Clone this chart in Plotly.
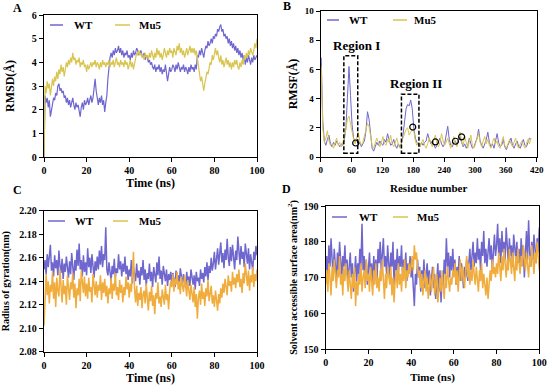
import plotly.graph_objects as go

# ---------------- data ----------------
time_ns = [i * 0.5 for i in range(201)]

rmsd_wt = [
    0.0, 2.6, 2.3, 2.5, 2.1, 2.4, 1.7, 2.0, 2.2, 2.5, 2.4, 2.7, 2.6, 3.0, 3.1, 2.8, 2.9, 2.7, 2.8, 2.5,
    2.6, 2.3, 2.5, 2.2, 2.4, 2.1, 2.3, 2.5, 2.2, 2.0, 2.3, 2.1, 2.2, 1.9, 1.7, 2.1, 2.3, 2.0, 2.4, 2.2,
    2.3, 2.5, 2.2, 2.4, 2.6, 2.3, 2.5, 2.9, 3.3, 2.8, 2.4, 2.2, 2.5, 2.3, 2.6, 2.2, 2.4, 1.9, 2.3, 2.6,
    3.3, 3.9, 4.2, 4.4, 4.2, 4.5, 4.3, 4.6, 4.4, 4.5, 4.7, 4.4, 4.6, 4.3, 4.5, 4.2, 4.4, 4.3, 4.5, 4.2,
    4.3, 4.1, 4.4, 4.2, 4.5, 4.3, 4.4, 4.6, 4.5, 4.3, 4.4, 4.5, 4.3, 4.2, 4.4, 4.1, 4.3, 4.2, 4.0, 4.1,
    3.9, 4.0, 3.8, 3.7, 3.9, 3.6, 3.8, 3.7, 3.9, 3.6, 3.8, 3.5, 3.7, 3.6, 3.9, 3.4, 3.2, 3.5, 3.8, 3.6,
    3.7, 3.9, 3.8, 3.6, 3.9, 3.7, 4.0, 3.8, 3.6, 3.8, 3.7, 3.9, 3.6, 3.8, 3.7, 3.5, 3.8, 3.6, 3.9, 3.7,
    3.8, 3.6, 3.9, 3.7, 4.3, 4.2, 4.5, 4.3, 4.6, 4.4, 4.2, 4.5, 4.7, 4.6, 4.9, 4.7, 4.8, 5.0, 4.8, 5.1,
    5.0, 5.2, 5.1, 5.4, 5.3, 5.5, 5.6, 5.3, 5.4, 5.1, 5.2, 5.0, 5.1, 4.8, 5.0, 4.7, 4.9, 4.6, 4.8, 4.5,
    4.7, 4.4, 4.6, 4.3, 4.5, 4.2, 4.4, 4.1, 4.3, 3.9, 4.2, 4.0, 4.3, 4.1, 3.9, 4.2, 4.0, 4.3, 4.1, 4.2, 4.3,
]
rmsd_mu5 = [
    0.0, 3.0, 2.7, 3.2, 2.9, 3.1, 2.6, 2.9, 3.3, 3.0, 3.4, 3.2, 3.6, 3.3, 3.7, 3.5, 3.9, 3.6, 3.8, 3.4,
    3.7, 4.0, 3.8, 4.1, 3.9, 4.2, 4.0, 4.4, 4.1, 4.2, 3.9, 4.1, 4.0, 4.2, 3.8, 4.0, 3.9, 4.1, 3.8, 3.9,
    3.6, 3.9, 3.7, 3.9, 4.0, 3.8, 4.0, 3.9, 4.1, 3.8, 4.0, 3.9, 3.7, 4.0, 3.8, 4.1, 3.9, 4.0, 3.8, 4.0,
    3.9, 4.1, 3.8, 4.0, 3.9, 4.1, 3.8, 4.0, 4.2, 3.9, 4.0, 3.8, 4.1, 3.9, 4.0, 3.8, 4.1, 3.9, 4.0, 3.7,
    3.9, 4.1, 3.8, 4.0, 3.7, 3.9, 4.2, 4.4, 4.3, 4.5, 4.3, 4.4, 4.2, 4.3, 4.1, 4.4, 4.2, 4.3, 4.1, 4.4,
    4.2, 4.5, 4.3, 4.1, 4.4, 4.2, 4.6, 4.3, 4.5, 4.2, 4.4, 4.1, 4.3, 4.6, 4.4, 4.2, 4.5, 4.3, 4.6, 4.4,
    4.5, 4.2, 4.6, 4.4, 4.3, 4.7, 4.5, 4.8, 4.4, 4.6, 4.3, 4.5, 4.2, 4.4, 4.6, 4.3, 4.5, 4.7, 4.4, 4.6,
    4.4, 4.6, 4.3, 4.5, 4.2, 3.9, 3.5, 3.2, 3.4, 3.0, 2.8, 3.1, 3.3, 3.6, 3.5, 3.8, 4.0, 3.9, 4.3, 4.1,
    4.4, 4.6, 4.3, 4.5, 4.2, 4.0, 4.3, 3.9, 4.1, 3.8, 4.0, 4.2, 3.9, 4.1, 3.8, 4.0, 3.7, 4.0, 3.8, 4.1,
    3.9, 4.1, 3.8, 3.7, 4.0, 3.8, 4.1, 3.9, 4.3, 4.1, 4.4, 4.2, 4.5, 4.3, 4.6, 4.4, 4.3, 4.5, 4.8, 4.6, 5.0,
]

residue = list(range(1, 410, 3))
rmsf_wt = [
    6.8, 2.5, 1.1, 0.8, 1.2, 1.5, 0.9, 0.7, 1.0, 0.8, 1.1, 0.9, 0.7, 0.9, 0.8, 1.2, 2.0, 4.1, 6.2, 4.2,
    2.2, 1.3, 1.0, 1.2, 0.8, 1.0, 0.7, 0.9, 1.1, 1.8, 3.1, 2.6, 1.6, 0.6, 0.4, 0.7, 1.0, 0.8, 1.1, 0.9,
    0.8, 1.2, 1.0, 1.6, 1.1, 0.8, 0.9, 1.2, 0.8, 0.6, 0.9, 0.7, 0.9, 1.5, 2.4, 3.3, 3.6, 3.5, 3.9, 3.3,
    2.0, 1.3, 1.0, 0.8, 0.7, 1.0, 0.8, 1.0, 1.1, 1.6, 1.2, 0.9, 1.1, 0.8, 0.6, 0.8, 1.0, 1.3, 0.9, 0.7,
    0.9, 1.4, 2.1, 1.2, 0.8, 0.7, 1.0, 1.1, 0.8, 1.2, 1.4, 1.0, 0.7, 0.9, 0.6, 0.8, 1.3, 0.9, 0.6, 0.7,
    1.0, 1.3, 1.9, 1.1, 0.8, 0.6, 0.9, 1.2, 1.7, 1.0, 0.7, 0.9, 0.6, 1.1, 1.6, 1.0, 0.7, 0.8, 1.2, 0.7,
    0.5, 0.8, 1.0, 1.3, 0.8, 0.6, 0.9, 1.1, 0.7, 0.6, 0.9, 1.2, 0.8, 0.7, 1.0, 1.3, 1.2,
]
rmsf_mu5 = [
    6.2, 2.0, 1.0, 1.3, 1.8, 1.1, 0.8, 0.9, 0.6, 1.0, 1.3, 0.8, 1.0, 0.7, 1.0, 1.3, 1.9, 2.6, 2.8, 2.2,
    1.6, 1.2, 0.9, 1.4, 1.7, 1.1, 0.8, 1.0, 1.4, 2.0, 2.3, 2.1, 1.5, 0.8, 0.6, 0.9, 1.3, 1.0, 0.7, 1.0,
    1.4, 0.9, 0.8, 1.2, 1.0, 1.5, 0.9, 0.7, 1.0, 1.3, 0.8, 0.6, 1.0, 1.3, 1.6, 1.9, 2.0, 1.5, 1.7, 1.9,
    1.8, 1.1, 0.8, 1.0, 0.7, 0.9, 1.2, 0.8, 0.6, 0.9, 1.3, 1.0, 0.7, 1.2, 1.5, 0.9, 0.7, 1.0, 1.6, 1.1,
    0.8, 1.0, 1.3, 0.9, 0.6, 1.0, 1.4, 0.9, 0.7, 1.3, 1.7, 1.1, 0.8, 1.4, 0.9, 0.6, 1.1, 1.5, 0.8, 0.6,
    0.9, 1.2, 1.6, 1.0, 0.7, 1.1, 1.4, 0.9, 1.2, 0.8, 0.6, 1.0, 1.3, 0.9, 1.1, 0.7, 0.6, 1.0, 1.4, 0.8,
    0.6, 0.9, 1.2, 0.9, 0.7, 1.0, 1.3, 0.8, 0.6, 0.9, 1.1, 0.8, 0.6, 0.9, 1.2, 0.9, 1.3,
]
circle_res = [68, 179, 223, 262, 274]
circle_val = [0.96, 2.05, 1.03, 1.08, 1.38]
region_labels = ["Region I", "Region II"]
region_label_x = [70, 185]
region_x0 = [45, 157]
region_x1 = [72, 191]
region_y0 = [0.25, 0.25]
region_y1 = [6.94, 4.29]

rg_wt = [
    2.150, 2.158, 2.146, 2.163, 2.152, 2.160, 2.171, 2.149, 2.156, 2.144,
    2.162, 2.151, 2.158, 2.145, 2.166, 2.153, 2.147, 2.159, 2.142, 2.155,
    2.148, 2.161, 2.150, 2.143, 2.157, 2.146, 2.164, 2.152, 2.141, 2.158,
    2.149, 2.167, 2.153, 2.172, 2.150, 2.158, 2.144, 2.162, 2.148, 2.156,
    2.145, 2.168, 2.152, 2.160, 2.147, 2.163, 2.151, 2.143, 2.157, 2.149,
    2.161, 2.150, 2.166, 2.154, 2.170, 2.152, 2.163, 2.158, 2.186, 2.150,
    2.145, 2.156, 2.148, 2.140, 2.153, 2.146, 2.159, 2.143, 2.151, 2.147,
    2.163, 2.150, 2.157, 2.144, 2.155, 2.148, 2.161, 2.146, 2.153, 2.141,
    2.150, 2.144, 2.158, 2.138, 2.152, 2.146, 2.140, 2.155, 2.143, 2.149,
    2.137, 2.152, 2.145, 2.158, 2.141, 2.150, 2.136, 2.147, 2.142, 2.155,
    2.140, 2.148, 2.135, 2.152, 2.143, 2.139, 2.156, 2.145, 2.161, 2.142,
    2.149, 2.137, 2.153, 2.144, 2.140, 2.150, 2.136, 2.146, 2.141, 2.148,
    2.139, 2.147, 2.142, 2.135, 2.149, 2.140, 2.145, 2.137, 2.151, 2.143,
    2.138, 2.146, 2.141, 2.134, 2.148, 2.139, 2.144, 2.136, 2.150, 2.141,
    2.137, 2.145, 2.133, 2.148, 2.140, 2.143, 2.136, 2.150, 2.142, 2.147,
    2.139, 2.152, 2.144, 2.156, 2.141, 2.153, 2.147, 2.160, 2.149, 2.155,
    2.165, 2.150, 2.158, 2.168, 2.154, 2.162, 2.173, 2.156, 2.164, 2.151,
    2.167, 2.158, 2.176, 2.160, 2.153, 2.169, 2.157, 2.171, 2.162, 2.150,
    2.166, 2.158, 2.178, 2.161, 2.154, 2.170, 2.159, 2.165, 2.152, 2.172,
    2.160, 2.155, 2.168, 2.150, 2.163, 2.157, 2.149, 2.165, 2.158, 2.170, 2.162,
]
rg_mu5 = [
    2.102, 2.135, 2.146, 2.128, 2.140, 2.121, 2.137, 2.131, 2.148, 2.125,
    2.139, 2.118, 2.143, 2.132, 2.127, 2.150, 2.134, 2.122, 2.141, 2.129,
    2.136, 2.120, 2.145, 2.130, 2.124, 2.139, 2.133, 2.147, 2.126, 2.138,
    2.117, 2.134, 2.128, 2.142, 2.123, 2.149, 2.136, 2.130, 2.144, 2.127,
    2.138, 2.125, 2.143, 2.131, 2.135, 2.122, 2.146, 2.133, 2.128, 2.140,
    2.126, 2.137, 2.132, 2.145, 2.124, 2.139, 2.130, 2.142, 2.127, 2.136,
    2.121, 2.134, 2.129, 2.143, 2.125, 2.138, 2.132, 2.147, 2.128, 2.135,
    2.124, 2.141, 2.130, 2.137, 2.122, 2.135, 2.128, 2.144, 2.133, 2.139,
    2.126, 2.138, 2.131, 2.146, 2.165, 2.134, 2.122, 2.136, 2.119, 2.130,
    2.124, 2.135, 2.117, 2.129, 2.132, 2.121, 2.138, 2.126, 2.115, 2.131,
    2.123, 2.136, 2.119, 2.128, 2.112, 2.130, 2.125, 2.139, 2.121, 2.127,
    2.118, 2.133, 2.126, 2.120, 2.137, 2.124, 2.129, 2.116, 2.132, 2.140,
    2.135, 2.146, 2.131, 2.142, 2.137, 2.148, 2.133, 2.140, 2.129, 2.144,
    2.136, 2.131, 2.145, 2.138, 2.127, 2.141, 2.134, 2.124, 2.137, 2.130,
    2.122, 2.135, 2.118, 2.129, 2.108, 2.126, 2.132, 2.120, 2.138, 2.125,
    2.131, 2.119, 2.134, 2.127, 2.141, 2.123, 2.130, 2.136, 2.121, 2.128,
    2.118, 2.132, 2.124, 2.115, 2.129, 2.121, 2.134, 2.126, 2.138, 2.130,
    2.142, 2.133, 2.128, 2.145, 2.136, 2.140, 2.131, 2.148, 2.137, 2.143,
    2.134, 2.146, 2.139, 2.150, 2.135, 2.142, 2.130, 2.147, 2.138, 2.155,
    2.141, 2.136, 2.149, 2.132, 2.145, 2.139, 2.152, 2.135, 2.146, 2.140, 2.150,
]

sasa_wt = [
    172, 176, 170, 179, 173, 181, 175, 171, 178, 174,
    169, 177, 172, 180, 174, 170, 176, 173, 179, 171,
    175, 168, 173, 177, 170, 174, 166, 172, 176, 169,
    174, 171, 178, 173, 185, 172, 176, 170, 175, 168,
    173, 177, 170, 174, 168, 176, 171, 175, 169, 178,
    174, 180, 172, 177, 181, 173, 176, 171, 179, 174,
    170, 177, 173, 180, 168, 175, 172, 178, 171, 176,
    173, 179, 170, 175, 172, 177, 169, 174, 171, 176,
    170, 173, 167, 162, 171, 168, 175, 170, 173, 166,
    172, 169, 175, 167, 171, 174, 168, 172, 165, 170,
    173, 167, 171, 164, 169, 174, 166, 172, 163, 170,
    168, 175, 171, 181, 173, 177, 170, 176, 172, 178,
    171, 175, 168, 173, 170, 176, 169, 174, 172, 167,
    173, 170, 175, 169, 174, 178, 172, 176, 180, 173,
    177, 174, 181, 175, 178, 172, 180, 176, 183, 174,
    178, 173, 176, 181, 175, 179, 172, 177, 182, 176,
    179, 185, 176, 181, 174, 183, 177, 180, 175, 184,
    178, 174, 181, 176, 179, 173, 182, 177, 175, 180,
    174, 178, 172, 181, 176, 179, 170, 177, 183, 175,
    186, 177, 173, 180, 175, 182, 176, 174, 181, 177, 184,
]
sasa_mu5 = [
    168, 172, 166, 174, 170, 165, 173, 169, 175, 171,
    167, 172, 170, 176, 168, 171, 165, 173, 169, 174,
    170, 166, 172, 168, 164, 171, 167, 173, 162, 169,
    165, 171, 168, 174, 166, 170, 172, 167, 175, 169,
    171, 166, 173, 169, 165, 172, 168, 174, 167, 170,
    166, 172, 169, 175, 168, 164, 171, 167, 173, 170,
    168, 173, 165, 170, 163, 169, 172, 167, 174, 168,
    171, 166, 173, 169, 175, 167, 172, 170, 174, 171,
    173, 176, 172, 179, 175, 177, 173, 170, 172, 167,
    171, 165, 169, 172, 166, 170, 164, 168, 171, 166,
    169, 173, 165, 168, 171, 163, 167, 170, 166, 172,
    168, 164, 171, 167, 173, 169, 166, 170, 168, 172,
    170, 174, 168, 172, 166, 171, 175, 169, 173, 170,
    167, 172, 176, 170, 174, 168, 172, 169, 175, 171,
    168, 173, 170, 166, 172, 169, 174, 167, 171, 168,
    165, 170, 164, 168, 172, 169, 175, 171, 173, 170,
    174, 171, 177, 173, 169, 176, 172, 178, 174, 170,
    175, 172, 178, 174, 171, 177, 173, 169, 176, 172,
    178, 174, 171, 176, 173, 179, 175, 172, 177, 174,
    170, 176, 173, 179, 175, 171, 177, 174, 180, 176, 172,
]

series_names = ["WT", "Mu5"]

# ---------------- style ----------------
WT_COLOR = "#6F67CE"
MU5_COLOR = "#D8C44E"
MU5_COLOR_CD = "#F0AC3C"
FONT = "Liberation Serif, Times New Roman, serif"
W, H = 550, 389


def px_x(p):
    return p / W


def px_y(p):
    return 1 - p / H


fig = go.Figure()

panels = [
    ("x", "y", time_ns, rmsd_wt, rmsd_mu5, MU5_COLOR, 1.2),
    ("x2", "y2", residue, rmsf_wt, rmsf_mu5, MU5_COLOR, 1.0),
    ("x3", "y3", time_ns, rg_wt, rg_mu5, MU5_COLOR_CD, 1.5),
    ("x4", "y4", time_ns, sasa_wt, sasa_mu5, MU5_COLOR_CD, 1.5),
]
for xa, ya, xs, wt, mu, mc, lw in panels:
    fig.add_trace(go.Scatter(x=xs, y=wt, mode="lines", name=series_names[0], xaxis=xa, yaxis=ya,
                             showlegend=False, line=dict(color=WT_COLOR, width=lw)))
    fig.add_trace(go.Scatter(x=xs, y=mu, mode="lines", name=series_names[1], xaxis=xa, yaxis=ya,
                             showlegend=False, line=dict(color=mc, width=lw)))

fig.add_trace(go.Scatter(x=circle_res, y=circle_val, mode="markers", xaxis="x2", yaxis="y2",
                         showlegend=False,
                         marker=dict(symbol="circle-open", size=6, color="black",
                                     line=dict(width=1.2, color="black"))))


def axis(domain, rng, dtick, title, tsize, tick_size, anchor, standoff, fmt=None):
    d = dict(domain=domain, range=rng, dtick=dtick, tick0=rng[0], showgrid=False, zeroline=False,
             showline=True, linecolor="black", linewidth=1.3, mirror=True, automargin=False,
             ticks="outside", ticklen=4, tickwidth=1.2, tickcolor="black",
             ticklabeloverflow="allow",
             tickfont=dict(family=FONT, size=tick_size, color="black", weight="bold"),
             title=dict(text=title, standoff=standoff,
                        font=dict(family=FONT, size=tsize, color="black", weight="bold")),
             anchor=anchor)
    if fmt:
        d["tickformat"] = fmt
    return d


A_x = [px_x(44), px_x(257)]
A_y = [px_y(157), px_y(15)]
B_x = [px_x(320.7), px_x(536.7)]
B_y = [px_y(157), px_y(11)]
C_x = [px_x(44), px_x(257)]
C_y = [px_y(351.7), px_y(210.7)]
D_x = [px_x(325.7), px_x(539.3)]
D_y = [px_y(349), px_y(206)]

fig.update_layout(
    xaxis=axis(A_x, [0, 100], 20, "Time (ns)", 12, 10, "y", 3),
    yaxis=axis(A_y, [0, 6], 1, "RMSD(Å)", 12, 10, "x", 14),
    xaxis2=axis(B_x, [0, 420], 60, "Residue number", 11, 9, "y2", 10),
    yaxis2=axis(B_y, [0, 10], 2, "RMSF(Å)", 12, 9, "x2", 4),
    xaxis3=axis(C_x, [0, 100], 20, "Time (ns)", 12, 10, "y3", 3),
    yaxis3=axis(C_y, [2.08, 2.20], 0.02, "Radius of gyration(nm)", 10, 10, "x3", 8, fmt=".2f"),
    xaxis4=axis(D_x, [0, 100], 20, "Time (ns)", 11, 10, "y4", 6),
    yaxis4=axis(D_y, [150, 190], 10, "Solvent accessible surface area(nm<sup>2</sup>)", 10, 10, "x4", 4),
)

# custom in-plot legends: (line x0, line x1, text x) per series, and row y, all in pixels
legend_layout = [
    (25, [(50, 63, 72), (115, 130, 137)]),
    (20, [(327, 339, 347), (393, 407, 412)]),
    (221, [(48, 65, 73), (113, 128, 137)]),
    (217, [(332, 347, 357), (393, 408, 415)]),
]
legend_colors = [WT_COLOR, MU5_COLOR]

shapes = []
annotations = []
for y, items in legend_layout:
    for (x0, x1, tx), name, col in zip(items, series_names, legend_colors):
        shapes.append(dict(type="line", xref="paper", yref="paper",
                           x0=px_x(x0), x1=px_x(x1), y0=px_y(y), y1=px_y(y),
                           line=dict(color=col, width=1.5)))
        annotations.append(dict(text=name, x=px_x(tx), y=px_y(y), xref="paper", yref="paper",
                                showarrow=False, xanchor="left", yanchor="middle",
                                font=dict(family=FONT, size=11, color="black", weight="bold")))

# panel letters
letters = [("A", 17, 8), ("B", 287, 6), ("C", 17, 190), ("D", 286, 189)]
for t, x, y in letters:
    annotations.append(dict(text=t, x=px_x(x), y=px_y(y), xref="paper", yref="paper",
                            showarrow=False, xanchor="center", yanchor="middle",
                            font=dict(family=FONT, size=12, color="black", weight="bold")))

# region boxes and labels on panel B
for lab, lx, x0, x1, y0, y1 in zip(region_labels, region_label_x, region_x0, region_x1, region_y0, region_y1):
    shapes.append(dict(type="rect", xref="x2", yref="y2", x0=x0, x1=x1, y0=y0, y1=y1,
                       line=dict(color="black", width=1.5, dash="4px,2px")))
    annotations.append(dict(text=lab, x=lx, y=y1, xref="x2", yref="y2",
                            yshift=1, showarrow=False, xanchor="center", yanchor="bottom",
                            font=dict(family=FONT, size=13, color="black", weight="bold")))

fig.update_layout(
    width=W, height=H, margin=dict(l=0, r=0, t=0, b=0),
    paper_bgcolor="white", plot_bgcolor="white",
    annotations=annotations, shapes=shapes, showlegend=False,
)

fig.write_html("out.html", config={"displayModeBar": False},
               post_script="document.body.style.margin='0px';")
